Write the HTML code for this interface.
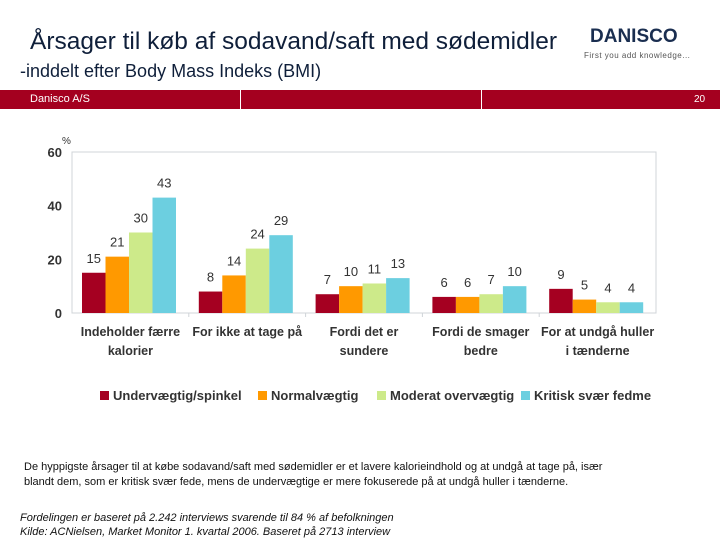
<!DOCTYPE html>
<html><head><meta charset="utf-8"><style>
body{margin:0;width:720px;height:540px;background:#fff;font-family:"Liberation Sans",sans-serif;position:relative;overflow:hidden}
.a{position:absolute;white-space:nowrap}
</style></head><body>
<div class="a" style="left:30px;top:28px;font-size:24.5px;color:#0f1f3a">Årsager til køb af sodavand/saft med sødemidler</div>
<div class="a" style="left:20px;top:61px;font-size:18px;color:#0f1f3a">-inddelt efter Body Mass Indeks (BMI)</div>
<div class="a" style="left:590px;top:26px;font-size:19px;font-weight:bold;color:#1a2e50">DANISCO</div>
<div class="a" style="left:584px;top:51px;font-size:8px;color:#555;letter-spacing:0.5px">First you add knowledge...</div>
<div class="a" style="left:0;top:90px;width:720px;height:19px;background:#a4001f"></div>
<div class="a" style="left:240px;top:90px;width:1px;height:19px;background:#fff"></div>
<div class="a" style="left:481px;top:90px;width:1px;height:19px;background:#fff"></div>
<div class="a" style="left:30px;top:93px;font-size:11px;color:#fff">Danisco A/S</div>
<div class="a" style="left:694px;top:94px;font-size:10px;color:#fff">20</div>
<svg class="a" style="left:0;top:0" width="720" height="540" id="c"></svg>
<div class="a" style="left:24px;top:460px;font-size:11px;color:#111;line-height:15px">De hyppigste årsager til at købe sodavand/saft med sødemidler er et lavere kalorieindhold og at undgå at tage på, især<br>blandt dem, som er kritisk svær fede, mens de undervægtige er mere fokuserede på at undgå huller i tænderne.</div>
<div class="a" style="left:20px;top:511px;font-size:11px;font-style:italic;color:#111;line-height:14px">Fordelingen er baseret på 2.242 interviews svarende til 84 % af befolkningen<br>Kilde: ACNielsen, Market Monitor 1. kvartal 2006. Baseret på 2713 interview</div>
<script>
const categories=[["Indeholder færre","kalorier"],["For ikke at tage på",""],["Fordi det er","sundere"],["Fordi de smager","bedre"],["For at undgå huller","i tænderne"]];
const seriesNames=["Undervægtig/spinkel","Normalvægtig","Moderat overvægtig","Kritisk svær fedme"];
const under=[15,8,7,6,9];
const normal=[21,14,10,6,5];
const moderat=[30,24,11,7,4];
const kritisk=[43,29,13,10,4];
const ticks=[0,20,40,60];
const series=[under,normal,moderat,kritisk];
const colors=["#a50021","#ff9900","#cdea8a","#6ccfe0"];
const svg=document.getElementById('c');const NS="http://www.w3.org/2000/svg";
const x0=72,x1=656,y0=313,y1=152;
const y=v=>y0-(v/60)*(y0-y1);
const gw=(x1-x0)/categories.length,bw=23.5;
function el(t,a,txt){const e=document.createElementNS(NS,t);for(const k in a)e.setAttribute(k,a[k]);if(txt!==undefined)e.textContent=txt;svg.appendChild(e);return e;}
let e=el('rect',{x:x0,y:y1,width:x1-x0,height:y0-y1,fill:'none',stroke:'#d0d4d8'});

ticks.forEach(t=>{const l=el('text',{x:62,y:y(t)+5,'text-anchor':'end','font-size':13,'font-weight':'bold',fill:'#333','font-family':'Liberation Sans'},t);
});
const u=el('text',{x:62,y:144,'font-size':10,fill:'#333'},'%');
categories.forEach((c,i)=>{const gx=x0+i*gw+10;
series.forEach((s,j)=>{const bx=gx+j*bw;
const r=el('rect',{x:bx,y:y(s[i]),width:bw,height:y0-y(s[i]),fill:colors[j]});

const t=el('text',{x:bx+bw/2,y:y(s[i])-10,'text-anchor':'middle','font-size':13,fill:'#333'},s[i]);
});
c.forEach((ln,k)=>{const t=el('text',{x:x0+i*gw+gw/2,y:336+k*19,'text-anchor':'middle','font-size':12.5,'font-weight':'bold',fill:'#333'},ln);
});
if(i>0){el('line',{x1:x0+i*gw,x2:x0+i*gw,y1:y0,y2:y0+4,stroke:'#d0d4d8'});}
});
const lx=[100,258,377,521];
seriesNames.forEach((n,j)=>{const r=el('rect',{x:lx[j],y:391,width:9,height:9,fill:colors[j]});

const t=el('text',{x:lx[j]+13,y:400,'font-size':13,'font-weight':'bold',fill:'#333'},n);
});
</script>
</body></html>
